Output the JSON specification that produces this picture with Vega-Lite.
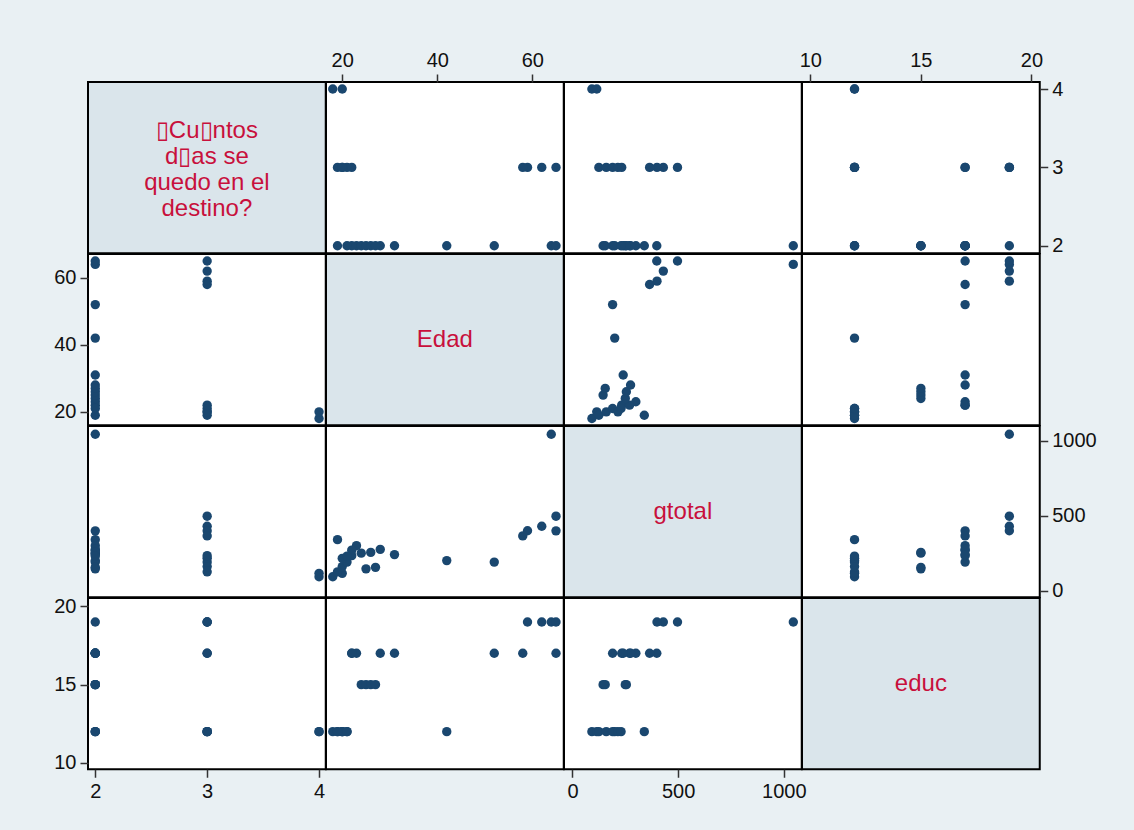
{
  "$schema": "https://vega.github.io/schema/vega-lite/v6.json",
  "background": "#e9f0f3",
  "padding": {"left": 52, "top": 49, "right": 36, "bottom": 29},
  "spacing": 0,
  "bounds": "flush",
  "columns": 4,
  "config": {
    "view": {"stroke": "#000000", "strokeWidth": 2, "fill": "#ffffff"},
    "axis": {"grid": false, "domain": false, "tickSize": 8, "tickWidth": 1.5, "tickColor": "#333333", "labelFontSize": 20, "labelFont": "Liberation Sans", "labelColor": "#111111", "labelPadding": 4, "labelFlush": false, "labelOverlap": false, "labelBound": false, "format": "d"},
    "circle": {"size": 88, "opacity": 1, "color": "#1a476f"},
    "text": {"fontSize": 24, "font": "Liberation Sans", "color": "#c8103c", "align": "center", "baseline": "middle"}
  },
  "data": {"values": [
    {"dias": 2, "edad": 64, "gtotal": 1045, "educ": 19},
    {"dias": 2, "edad": 65, "gtotal": 399, "educ": 17},
    {"dias": 3, "edad": 65, "gtotal": 497, "educ": 19},
    {"dias": 3, "edad": 62, "gtotal": 430, "educ": 19},
    {"dias": 3, "edad": 59, "gtotal": 400, "educ": 19},
    {"dias": 3, "edad": 58, "gtotal": 365, "educ": 17},
    {"dias": 2, "edad": 52, "gtotal": 190, "educ": 17},
    {"dias": 2, "edad": 42, "gtotal": 200, "educ": 12},
    {"dias": 4, "edad": 18, "gtotal": 92, "educ": 12},
    {"dias": 4, "edad": 20, "gtotal": 115, "educ": 12},
    {"dias": 3, "edad": 19, "gtotal": 125, "educ": 12},
    {"dias": 3, "edad": 20, "gtotal": 160, "educ": 12},
    {"dias": 3, "edad": 21, "gtotal": 190, "educ": 12},
    {"dias": 3, "edad": 20, "gtotal": 215, "educ": 12},
    {"dias": 3, "edad": 22, "gtotal": 233, "educ": 17},
    {"dias": 2, "edad": 19, "gtotal": 340, "educ": 12},
    {"dias": 2, "edad": 23, "gtotal": 300, "educ": 17},
    {"dias": 2, "edad": 22, "gtotal": 270, "educ": 17},
    {"dias": 2, "edad": 28, "gtotal": 275, "educ": 17},
    {"dias": 2, "edad": 31, "gtotal": 240, "educ": 17},
    {"dias": 2, "edad": 24, "gtotal": 250, "educ": 15},
    {"dias": 2, "edad": 25, "gtotal": 145, "educ": 15},
    {"dias": 2, "edad": 26, "gtotal": 255, "educ": 15},
    {"dias": 2, "edad": 27, "gtotal": 155, "educ": 15},
    {"dias": 2, "edad": 21, "gtotal": 230, "educ": 12}
  ]},
  "concat": [
    {"width": 237.75, "height": 171.25, "view": {"fill": "#dae5eb"},
     "data": {"values": [{"label": "\u25afCu\u25afntos\nd\u25afas se\nquedo en el\ndestino?"}]},
     "mark": {"type": "text", "lineBreak": "\n", "lineHeight": 26, "dy": -37},
     "encoding": {"text": {"field": "label"},
       "x": {"datum": 0.5, "type": "quantitative", "scale": {"domain": [0, 1]}, "axis": null},
       "y": {"datum": 0.5, "type": "quantitative", "scale": {"domain": [0, 1]}, "axis": null}}},
    {"width": 237.75, "height": 171.25, "mark": "circle",
     "encoding": {
       "x": {"field": "edad", "type": "quantitative", "scale": {"domain": [16.58, 66.63], "nice": false, "zero": false}, "axis": {"orient": "top", "values": [20, 40, 60], "title": null}},
       "y": {"field": "dias", "type": "quantitative", "scale": {"domain": [1.905, 4.09], "nice": false, "zero": false}, "axis": null}}},
    {"width": 237.75, "height": 171.25, "mark": "circle",
     "encoding": {
       "x": {"field": "gtotal", "type": "quantitative", "scale": {"domain": [-40, 1085], "nice": false, "zero": false}, "axis": null},
       "y": {"field": "dias", "type": "quantitative", "scale": {"domain": [1.905, 4.09], "nice": false, "zero": false}, "axis": null}}},
    {"width": 237.75, "height": 171.25, "mark": "circle",
     "encoding": {
       "x": {"field": "educ", "type": "quantitative", "scale": {"domain": [9.625, 20.375], "nice": false, "zero": false}, "axis": {"orient": "top", "values": [10, 15, 20], "title": null}},
       "y": {"field": "dias", "type": "quantitative", "scale": {"domain": [1.905, 4.09], "nice": false, "zero": false}, "axis": {"orient": "right", "values": [2, 3, 4], "title": null}}}},

    {"width": 237.75, "height": 171.25, "mark": "circle",
     "encoding": {
       "x": {"field": "dias", "type": "quantitative", "scale": {"domain": [1.935, 4.06], "nice": false, "zero": false}, "axis": null},
       "y": {"field": "edad", "type": "quantitative", "scale": {"domain": [16.0, 67.1], "nice": false, "zero": false}, "axis": {"orient": "left", "values": [20, 40, 60], "title": null}}}},
    {"width": 237.75, "height": 171.25, "view": {"fill": "#dae5eb"},
     "data": {"values": [{"label": "Edad"}]},
     "mark": "text",
     "encoding": {"text": {"field": "label"},
       "x": {"datum": 0.5, "type": "quantitative", "scale": {"domain": [0, 1]}, "axis": null},
       "y": {"datum": 0.5, "type": "quantitative", "scale": {"domain": [0, 1]}, "axis": null}}},
    {"width": 237.75, "height": 171.25, "mark": "circle",
     "encoding": {
       "x": {"field": "gtotal", "type": "quantitative", "scale": {"domain": [-40, 1085], "nice": false, "zero": false}, "axis": null},
       "y": {"field": "edad", "type": "quantitative", "scale": {"domain": [16.0, 67.1], "nice": false, "zero": false}, "axis": null}}},
    {"width": 237.75, "height": 171.25, "mark": "circle",
     "encoding": {
       "x": {"field": "educ", "type": "quantitative", "scale": {"domain": [9.625, 20.375], "nice": false, "zero": false}, "axis": null},
       "y": {"field": "edad", "type": "quantitative", "scale": {"domain": [16.0, 67.1], "nice": false, "zero": false}, "axis": null}}},

    {"width": 237.75, "height": 171.25, "mark": "circle",
     "encoding": {
       "x": {"field": "dias", "type": "quantitative", "scale": {"domain": [1.935, 4.06], "nice": false, "zero": false}, "axis": null},
       "y": {"field": "gtotal", "type": "quantitative", "scale": {"domain": [-45, 1100], "nice": false, "zero": false}, "axis": null}}},
    {"width": 237.75, "height": 171.25, "mark": "circle",
     "encoding": {
       "x": {"field": "edad", "type": "quantitative", "scale": {"domain": [16.58, 66.63], "nice": false, "zero": false}, "axis": null},
       "y": {"field": "gtotal", "type": "quantitative", "scale": {"domain": [-45, 1100], "nice": false, "zero": false}, "axis": null}}},
    {"width": 237.75, "height": 171.25, "view": {"fill": "#dae5eb"},
     "data": {"values": [{"label": "gtotal"}]},
     "mark": "text",
     "encoding": {"text": {"field": "label"},
       "x": {"datum": 0.5, "type": "quantitative", "scale": {"domain": [0, 1]}, "axis": null},
       "y": {"datum": 0.5, "type": "quantitative", "scale": {"domain": [0, 1]}, "axis": null}}},
    {"width": 237.75, "height": 171.25, "mark": "circle",
     "encoding": {
       "x": {"field": "educ", "type": "quantitative", "scale": {"domain": [9.625, 20.375], "nice": false, "zero": false}, "axis": null},
       "y": {"field": "gtotal", "type": "quantitative", "scale": {"domain": [-45, 1100], "nice": false, "zero": false}, "axis": {"orient": "right", "values": [0, 500, 1000], "title": null}}}},

    {"width": 237.75, "height": 171.25, "mark": "circle",
     "encoding": {
       "x": {"field": "dias", "type": "quantitative", "scale": {"domain": [1.935, 4.06], "nice": false, "zero": false}, "axis": {"orient": "bottom", "values": [2, 3, 4], "title": null}},
       "y": {"field": "educ", "type": "quantitative", "scale": {"domain": [9.6, 20.53], "nice": false, "zero": false}, "axis": {"orient": "left", "values": [10, 15, 20], "title": null}}}},
    {"width": 237.75, "height": 171.25, "mark": "circle",
     "encoding": {
       "x": {"field": "edad", "type": "quantitative", "scale": {"domain": [16.58, 66.63], "nice": false, "zero": false}, "axis": null},
       "y": {"field": "educ", "type": "quantitative", "scale": {"domain": [9.6, 20.53], "nice": false, "zero": false}, "axis": null}}},
    {"width": 237.75, "height": 171.25, "mark": "circle",
     "encoding": {
       "x": {"field": "gtotal", "type": "quantitative", "scale": {"domain": [-40, 1085], "nice": false, "zero": false}, "axis": {"orient": "bottom", "values": [0, 500, 1000], "title": null}},
       "y": {"field": "educ", "type": "quantitative", "scale": {"domain": [9.6, 20.53], "nice": false, "zero": false}, "axis": null}}},
    {"width": 237.75, "height": 171.25, "view": {"fill": "#dae5eb"},
     "data": {"values": [{"label": "educ"}]},
     "mark": "text",
     "encoding": {"text": {"field": "label"},
       "x": {"datum": 0.5, "type": "quantitative", "scale": {"domain": [0, 1]}, "axis": null},
       "y": {"datum": 0.5, "type": "quantitative", "scale": {"domain": [0, 1]}, "axis": null}}}
  ]
}
